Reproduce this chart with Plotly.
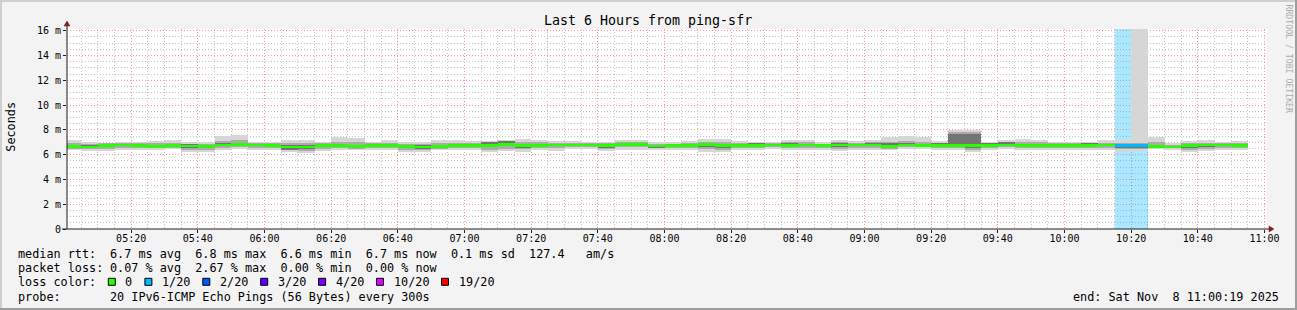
import numpy as np
import plotly.graph_objects as go

# ---------------- data ----------------
title_text = "Last 6 Hours from ping-sfr"
x_tick_labels = ["05:20", "05:40", "06:00", "06:20", "06:40", "07:00", "07:20", "07:40",
                 "08:00", "08:20", "08:40", "09:00", "09:20", "09:40", "10:00", "10:20",
                 "10:40", "11:00"]
y_tick_values = [0, 2, 4, 6, 8, 10, 12, 14, 16]
y_tick_labels = ["0", "2 m", "4 m", "6 m", "8 m", "10 m", "12 m", "14 m", "16 m"]

# 5-minute steps starting 05:00 (values in ms)
smoke_hi = [7.15, 6.99, 6.93, 6.99, 6.99, 7.10, 7.15, 6.99, 6.99, 7.53,
            7.58, 6.99, 6.99, 7.15, 7.21, 7.04, 7.42, 7.31, 6.99, 7.15,
            7.04, 7.02, 7.21, 7.21, 7.10, 7.10, 7.15, 7.29, 7.21, 7.10,
            7.10, 7.04, 7.02, 7.21, 7.21, 7.02, 6.99, 7.10, 7.29, 7.29,
            7.10, 6.99, 6.99, 7.15, 7.21, 6.99, 7.21, 7.10, 7.21, 7.42,
            7.53, 7.42, 7.10, 7.96, 7.96, 7.02, 7.15, 7.26, 7.21, 7.04,
            7.04, 7.04, 7.15, 7.15, 16.5, 7.42, 6.93, 7.10, 7.15, 6.99,
            7.10]
smoke_lo = [6.34, 6.29, 6.29, 6.40, 6.34, 6.40, 6.45, 6.21, 6.18, 6.34,
            6.45, 6.40, 6.40, 6.18, 6.15, 6.29, 6.34, 6.34, 6.40, 6.40,
            6.21, 6.21, 6.34, 6.40, 6.40, 6.21, 6.29, 6.21, 6.40, 6.29,
            6.48, 6.48, 6.29, 6.40, 6.40, 6.34, 6.34, 6.40, 6.21, 6.21,
            6.40, 6.40, 6.48, 6.40, 6.34, 6.34, 6.29, 6.40, 6.40, 6.34,
            6.45, 6.48, 6.40, 6.40, 6.21, 6.40, 6.48, 6.40, 6.40, 6.34,
            6.34, 6.40, 6.40, 6.21, 6.29, 6.48, 6.40, 6.21, 6.29, 6.40,
            6.40]
smoke_mid_hi = [6.92, 6.85, 6.90, 6.92, 6.92, 6.92, 6.95, 6.88, 6.88, 7.10,
                7.15, 6.92, 6.90, 6.90, 6.95, 6.90, 7.05, 7.00, 6.90, 6.95,
                6.88, 6.85, 6.95, 6.95, 6.92, 6.98, 7.02, 7.00, 6.98, 6.95,
                6.95, 6.92, 6.90, 7.02, 7.02, 6.88, 6.88, 6.92, 7.05, 7.00,
                6.92, 6.90, 6.92, 6.98, 6.98, 6.88, 6.98, 6.92, 6.98, 7.05,
                7.10, 7.05, 6.95, 7.82, 7.82, 6.92, 7.00, 7.02, 6.98, 6.90,
                6.90, 6.92, 6.95, 6.95, 6.95, 7.02, 6.80, 6.92, 6.95, 6.90,
                6.92]
smoke_mid_lo = [6.48, 6.45, 6.48, 6.55, 6.50, 6.52, 6.55, 6.40, 6.38, 6.52,
                6.60, 6.55, 6.55, 6.35, 6.33, 6.48, 6.52, 6.48, 6.55, 6.55,
                6.40, 6.38, 6.48, 6.55, 6.52, 6.40, 6.48, 6.42, 6.55, 6.50,
                6.60, 6.60, 6.45, 6.58, 6.58, 6.50, 6.50, 6.55, 6.42, 6.40,
                6.55, 6.55, 6.60, 6.55, 6.52, 6.50, 6.48, 6.55, 6.55, 6.48,
                6.58, 6.60, 6.55, 6.55, 6.40, 6.55, 6.60, 6.55, 6.55, 6.50,
                6.50, 6.55, 6.55, 6.42, 6.45, 6.58, 6.50, 6.38, 6.45, 6.55,
                6.55]
smoke_in_hi = [6.78, 6.74, 6.82, 6.85, 6.84, 6.80, 6.84, 6.82, 6.80, 6.90,
               6.92, 6.86, 6.82, 6.74, 6.75, 6.82, 6.88, 6.80, 6.86, 6.84,
               6.78, 6.74, 6.80, 6.84, 6.84, 7.00, 7.08, 6.84, 6.84, 6.88,
               6.88, 6.88, 6.85, 6.92, 6.92, 6.80, 6.82, 6.82, 6.92, 6.84,
               6.84, 6.95, 6.86, 6.90, 6.88, 6.82, 6.90, 6.86, 6.90, 6.90,
               6.90, 6.86, 6.95, 7.70, 7.70, 6.90, 7.05, 6.84, 6.84, 6.82,
               6.82, 6.95, 6.86, 6.84, 6.84, 6.80, 6.72, 6.85, 6.86, 6.86,
               6.82]
smoke_in_lo = [6.54, 6.52, 6.60, 6.66, 6.64, 6.56, 6.62, 6.56, 6.54, 6.66,
               6.70, 6.66, 6.62, 6.40, 6.42, 6.60, 6.64, 6.56, 6.62, 6.64,
               6.52, 6.48, 6.56, 6.62, 6.62, 6.60, 6.68, 6.56, 6.60, 6.66,
               6.68, 6.68, 6.55, 6.72, 6.72, 6.56, 6.60, 6.62, 6.60, 6.55,
               6.62, 6.62, 6.68, 6.64, 6.66, 6.60, 6.64, 6.66, 6.66, 6.52,
               6.68, 6.66, 6.64, 6.64, 6.50, 6.62, 6.68, 6.62, 6.62, 6.60,
               6.60, 6.64, 6.66, 6.52, 6.55, 6.58, 6.50, 6.50, 6.62, 6.66,
               6.62]
median_rtt = [6.64, 6.61, 6.72, 6.77, 6.75, 6.67, 6.72, 6.69, 6.67, 6.77,
              6.80, 6.77, 6.72, 6.61, 6.61, 6.72, 6.75, 6.67, 6.72, 6.75,
              6.67, 6.61, 6.67, 6.72, 6.72, 6.75, 6.80, 6.71, 6.71, 6.77,
              6.78, 6.78, 6.75, 6.83, 6.83, 6.69, 6.72, 6.72, 6.80, 6.72,
              6.72, 6.72, 6.77, 6.75, 6.77, 6.72, 6.77, 6.77, 6.77, 6.64,
              6.77, 6.75, 6.75, 6.75, 6.72, 6.72, 6.77, 6.72, 6.72, 6.72,
              6.72, 6.75, 6.77, 6.72, 6.72, 6.67, 6.61, 6.72, 6.77, 6.77,
              6.72]
lost_pings = [0, 0, 0, 0, 0, 0, 0, 0, 0, 0,
              0, 0, 0, 0, 0, 0, 0, 0, 0, 0,
              0, 0, 0, 0, 0, 0, 0, 0, 0, 0,
              0, 0, 0, 0, 0, 0, 0, 0, 0, 0,
              0, 0, 0, 0, 0, 0, 0, 0, 0, 0,
              0, 0, 0, 0, 0, 0, 0, 0, 0, 0,
              0, 0, 0, 1, 1, 0, 0, 0, 0, 0,
              0]

loss_thresholds = [0, 1, 2, 3, 4, 10, 19]
loss_labels = ["0", "1/20", "2/20", "3/20", "4/20", "10/20", "19/20"]
loss_colors = ["#26ff00", "#00b8ff", "#0059ff", "#5e00ff", "#7e00ff", "#dd00ff", "#ff0000"]

median_label = "median rtt:"
median_stats = "6.7 ms avg  6.8 ms max  6.6 ms min  6.7 ms now  0.1 ms sd  127.4   am/s"
loss_label = "packet loss:"
loss_stats = "0.07 % avg  2.67 % max  0.00 % min  0.00 % now"
loss_color_label = "loss color:"
probe_label = "probe:"
probe_text = "20 IPv6-ICMP Echo Pings (56 Bytes) every 300s"
end_text = "end: Sat Nov  8 11:00:19 2025"
watermark = "RRDTOOL / TOBI OETIKER"
y_title = "Seconds"

# ---------------- geometry / style ----------------
STEP = 5.0
W, H = 1297, 310
L, T, PW, PH = 67, 29, 1200, 200
X_RANGE = [0.75, 360.75]
Y_RANGE = [0, 16.13]
MONO = "DejaVu Sans Mono"


def px(x):
    return (x - L) / PW


def py(y):
    return (T + PH - y) / PH


def nb(s):
    return s.replace(" ", "\u00a0")


def hm(s):
    h, m = s.split(":")
    return (int(h) - 5) * 60 + int(m)


def loss_colour(n):
    c = loss_colors[0]
    for t, col in zip(loss_thresholds, loss_colors):
        if n >= t:
            c = col
    return c


n = len(median_rtt)
centers = STEP / 2 + STEP * np.arange(n)
hi = np.array(smoke_hi); lo = np.array(smoke_lo)
mhi = np.array(smoke_mid_hi); mlo = np.array(smoke_mid_lo)
ihi = np.array(smoke_in_hi); ilo = np.array(smoke_in_lo)
med = np.array(median_rtt)
loss = np.array(lost_pings)

x_major = [hm(s) for s in x_tick_labels]
x_minor = [float(v) for v in np.arange(5, 365, 5) if v % 20 != 0]
y_minor = [float(v) for v in np.arange(0.5, 16.5, 0.5) if v % 2 != 0]

fig = go.Figure()

# loss background bands
lx = centers[loss > 0]
lcol = []
for v in loss[loss > 0]:
    c = loss_colour(v).lstrip("#")
    r, g, b = int(c[0:2], 16), int(c[2:4], 16), int(c[4:6], 16)
    lcol.append(f"rgba({r},{g},{b},0.33)")
fig.add_trace(go.Bar(x=lx, y=[Y_RANGE[1] + 1] * len(lx), base=0, width=STEP,
                     marker=dict(color=lcol, line=dict(width=0))))

# smoke layers
for top, bot, col in [(hi, lo, "#d6d6d6"), (mhi, mlo, "#ababab"), (ihi, ilo, "#747474")]:
    fig.add_trace(go.Bar(x=centers, y=top - bot, base=bot, width=STEP,
                         marker=dict(color=col, line=dict(width=0))))

# median line coloured by loss
MED_W = 0.22
fig.add_trace(go.Bar(x=centers, y=[MED_W] * n, base=med - MED_W / 2, width=STEP,
                     marker=dict(color=[loss_colour(v) for v in loss], line=dict(width=0))))

grid_minor = "#c4c4c4"
grid_major = "#f39a9a"

fig.update_layout(
    width=W, height=H,
    margin=dict(l=L, r=W - L - PW, t=T, b=H - T - PH, pad=0),
    paper_bgcolor="#f3f3f3", plot_bgcolor="#ffffff",
    barmode="overlay", bargap=0, bargroupgap=0,
    showlegend=False, hovermode=False,
    font=dict(family=MONO, color="#000000"),
    xaxis=dict(range=X_RANGE, tickmode="array", tickvals=x_major, ticktext=x_tick_labels,
               showgrid=True, gridcolor=grid_major, griddash="1px,2px", gridwidth=1,
               ticks="outside", ticklen=3, tickcolor="#1f1f1f", ticklabelstandoff=-3,
               tickfont=dict(family=MONO, size=10, color="#000"),
               minor=dict(tickmode="array", tickvals=x_minor, showgrid=True, gridcolor=grid_minor,
                          griddash="1px,2px", gridwidth=1),
               zeroline=False, showline=False, fixedrange=True, layer="below traces"),
    yaxis=dict(range=Y_RANGE, tickmode="array", tickvals=y_tick_values, ticktext=y_tick_labels,
               showgrid=True, gridcolor=grid_major, griddash="1px,2px", gridwidth=1,
               ticks="outside", ticklen=3, tickcolor="#1f1f1f",
               tickfont=dict(family=MONO, size=10, color="#000"),
               minor=dict(tickmode="array", tickvals=y_minor, showgrid=True, gridcolor=grid_minor,
                          griddash="1px,2px", gridwidth=1),
               zeroline=False, showline=False, fixedrange=True),
)

shapes = []
# image border (3D look)
shapes.append(dict(type="rect", xref="paper", yref="paper", x0=px(0), x1=px(W), y0=py(0), y1=py(2),
                   fillcolor="#cfcfcf", line=dict(width=0)))
shapes.append(dict(type="rect", xref="paper", yref="paper", x0=px(0), x1=px(2), y0=py(0), y1=py(H),
                   fillcolor="#cfcfcf", line=dict(width=0)))
shapes.append(dict(type="rect", xref="paper", yref="paper", x0=px(0), x1=px(W), y0=py(H - 2), y1=py(H),
                   fillcolor="#9e9e9e", line=dict(width=0)))
shapes.append(dict(type="rect", xref="paper", yref="paper", x0=px(W - 2), x1=px(W), y0=py(0), y1=py(H),
                   fillcolor="#9e9e9e", line=dict(width=0)))
# axes
shapes.append(dict(type="line", xref="paper", yref="paper", x0=px(62), x1=px(1270), y0=py(229), y1=py(229),
                   line=dict(color="#1f1f1f", width=1)))
shapes.append(dict(type="line", xref="paper", yref="paper", x0=px(67), x1=px(67), y0=py(229), y1=py(25),
                   line=dict(color="#1f1f1f", width=1)))
# arrows
shapes.append(dict(type="path", xref="paper", yref="paper",
                   path=f"M {px(64)},{py(26)} L {px(70)},{py(26)} L {px(67)},{py(21)} Z",
                   fillcolor="#801f1f", line=dict(color="#801f1f", width=0.5)))
shapes.append(dict(type="path", xref="paper", yref="paper",
                   path=f"M {px(1269)},{py(226)} L {px(1269)},{py(232)} L {px(1274)},{py(229)} Z",
                   fillcolor="#801f1f", line=dict(color="#801f1f", width=0.5)))

ann = []


def text(x, y, s, size=11.8, anchor="left", color="#000", angle=0):
    ann.append(dict(text=nb(s), xref="paper", yref="paper", x=px(x), y=py(y), xanchor=anchor,
                    yanchor="middle", showarrow=False, textangle=angle,
                    font=dict(family=MONO, size=size, color=color)))


text(648, 20, title_text, size=13.3, anchor="center")
text(10.7, 127, y_title, size=11.8, anchor="center", angle=-90)
text(1288, 58.5, watermark, size=8.2, anchor="center", color="#acacac", angle=90)

ROWS = [254.3, 268.3, 282.3, 296.5]
VX = 107.5
CH = 7.1
text(16, ROWS[0], median_label)
text(VX, ROWS[0], median_stats)
text(16, ROWS[1], loss_label)
text(VX, ROWS[1], loss_stats)
text(16, ROWS[2], loss_color_label)
text(16, ROWS[3], probe_label)
text(VX, ROWS[3], probe_text)
text(1281, ROWS[3], end_text, anchor="right")

bx = 108.3
for lab, col in zip(loss_labels, loss_colors):
    shapes.append(dict(type="rect", xref="paper", yref="paper", x0=px(bx), x1=px(bx + 7),
                       y0=py(ROWS[2] + 3), y1=py(ROWS[2] - 4), fillcolor=col,
                       line=dict(color="#000", width=1)))
    text(bx + 15, ROWS[2], lab)
    bx = bx + 15 + len(lab) * CH + 14.5

fig.update_layout(shapes=shapes, annotations=ann)
fig.write_html("out.html", config={"displayModeBar": False})
